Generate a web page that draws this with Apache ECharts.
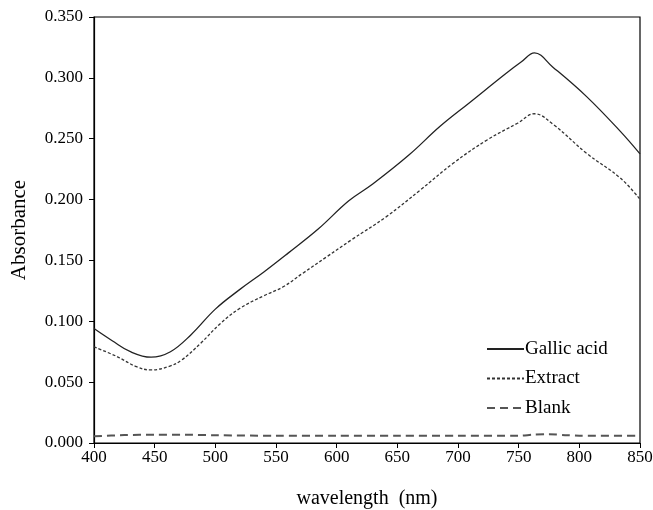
<!DOCTYPE html>
<html>
<head>
<meta charset="utf-8">
<script src="https://cdn.jsdelivr.net/npm/echarts@6/dist/echarts.min.js"></script>
<style>
  html, body { margin: 0; padding: 0; background: #fff; }
  #chart { width: 653px; height: 510px; }
</style>
</head>
<body>
<div id="chart"></div>
<script>
// 波长 / 吸光度 数据
const gallicWl = [400, 415, 430, 447, 463, 480, 500, 520, 540, 560, 585, 610, 630, 660, 685, 710, 740, 752, 763, 778, 806, 834, 850]
const gallicAbs = [0.094, 0.084, 0.075, 0.0705, 0.075, 0.089, 0.110, 0.126, 0.1405, 0.156, 0.176, 0.199, 0.213, 0.237, 0.260, 0.280, 0.304, 0.313, 0.3205, 0.309, 0.2846, 0.2558, 0.2375]

const extractWl = [400, 419, 435, 447, 462, 472, 488, 504, 520, 540, 556, 572, 592, 612, 641, 669, 696, 724, 749, 763, 779, 806, 834, 850]
const extractAbs = [0.079, 0.071, 0.0627, 0.060, 0.063, 0.068, 0.082, 0.098, 0.1105, 0.121, 0.1284, 0.1394, 0.1531, 0.1668, 0.186, 0.2079, 0.2298, 0.249, 0.2627, 0.2705, 0.2613, 0.238, 0.2175, 0.2002]

const blankWl = [400, 425, 450, 475, 500, 550, 600, 650, 700, 750, 762, 775, 790, 800, 850]
const blankAbs = [0.0055, 0.0065, 0.0068, 0.0068, 0.0064, 0.006, 0.006, 0.006, 0.006, 0.006, 0.0068, 0.0072, 0.0064, 0.006, 0.006]

const seriesNames = ['Gallic acid', 'Extract', 'Blank']

function pairs(xs, ys) {
    return xs.map((x, i) => [x, ys[i]])
}

const font = 'Liberation Serif'
var myChart = echarts.init(document.getElementById('chart'))

myChart.setOption({
    animation: false,
    grid: {
        left: 94, right: 13, top: 17, bottom: 67,
        outerBoundsMode: 'none', containLabel: false,
        show: true, borderColor: '#000', borderWidth: 1.2, backgroundColor: 'transparent'
    },
    legend: {
        data: seriesNames,
        orient: 'vertical',
        left: 481, top: 334,
        itemWidth: 37, itemHeight: 14, itemGap: 9.5,
        itemStyle: { opacity: 0 },
        textStyle: { fontFamily: font, fontSize: 19, lineHeight: 20, color: '#000', padding: [0, 0, 0, -4] }
    },
    xAxis: {
        type: 'value', min: 400, max: 850, interval: 50,
        name: 'wavelength  (nm)', nameLocation: 'middle', nameGap: 46,
        nameTextStyle: { fontFamily: font, fontSize: 20, color: '#000' },
        axisLine: { lineStyle: { color: '#000', width: 1.2 } },
        axisTick: { show: true, length: 5, lineStyle: { color: '#000' } },
        axisLabel: { fontFamily: font, fontSize: 17, color: '#000', margin: 6 },
        splitLine: { show: false }
    },
    yAxis: {
        type: 'value', min: 0, max: 0.35, interval: 0.05,
        name: 'Absorbance', nameLocation: 'middle', nameGap: 64,
        nameTextStyle: { fontFamily: font, fontSize: 21, color: '#000' },
        axisLine: { show: true, lineStyle: { color: '#000', width: 1.2 } },
        axisTick: { show: true, length: 5, lineStyle: { color: '#000' } },
        axisLabel: { fontFamily: font, fontSize: 17, color: '#000', margin: 11,
            formatter: v => v.toFixed(3) },
        splitLine: { show: false }
    },
    series: [
        {
            name: seriesNames[0], type: 'line', smooth: 0.4, symbol: 'none',
            data: pairs(gallicWl, gallicAbs),
            lineStyle: { color: '#222', width: 1.3, type: 'solid' },
            itemStyle: { color: '#222' }
        },
        {
            name: seriesNames[1], type: 'line', smooth: 0.4, symbol: 'none',
            data: pairs(extractWl, extractAbs),
            lineStyle: { color: '#333', width: 1.3, type: [3, 2] },
            itemStyle: { color: '#333' }
        },
        {
            name: seriesNames[2], type: 'line', smooth: 0.3, symbol: 'none',
            data: pairs(blankWl, blankAbs),
            lineStyle: { color: '#555', width: 2, type: [8, 5] },
            itemStyle: { color: '#555' }
        }
    ]
})
</script>
</body>
</html>
